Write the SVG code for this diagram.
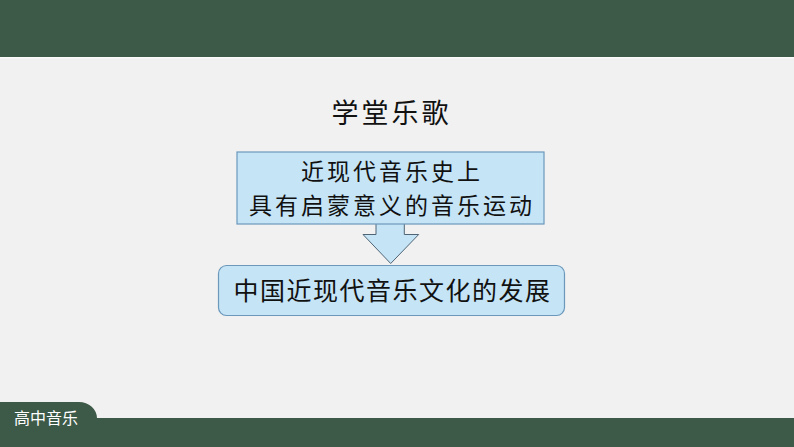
<svg xmlns="http://www.w3.org/2000/svg" width="794" height="447" viewBox="0 0 794 447">
<style>
.cjk{font-family:"Noto Sans CJK SC","Noto Sans CJK TC",sans-serif;fill:#111;}
.box{fill:#c5e4f6;stroke:#6b98bb;stroke-width:1.2;}
</style>
<rect x="0" y="0" width="794" height="447" fill="#f1f1f1"/>
<g id="header">
<rect x="0" y="0" width="794" height="57" fill="#3d5947"/>
<rect x="0" y="57" width="794" height="1.5" fill="#fbfbfb"/>
</g>
<g id="footer">
<path d="M0,402 H79 A18,16 0 0 1 97,418 H794 V447 H0 Z" fill="#3d5947"/>
<text x="14" y="424" font-family="'Noto Sans CJK SC',sans-serif" font-size="16" fill="#ffffff">高中音乐</text>
</g>
<g id="title">
<text class="cjk" x="391.5" y="123" font-size="27" letter-spacing="3" text-anchor="middle">学堂乐歌</text>
</g>
<g id="connectors">
<path id="arrow" d="M376,224 V234.5 H363 L390.7,263.5 L418.7,234.5 H404.3 V224" fill="#c5e4f6" stroke="#4f6576" stroke-width="1"/>
</g>
<g id="node1">
<rect class="box" x="237" y="152" width="307" height="72"/>
<text class="cjk" x="392" y="180" font-size="23" letter-spacing="3" text-anchor="middle">近现代音乐史上</text>
<text class="cjk" x="392" y="213.5" font-size="23" letter-spacing="3" text-anchor="middle">具有启蒙意义的音乐运动</text>
</g>
<g id="node2">
<rect class="box" x="218.5" y="265.5" width="346" height="50" rx="8" ry="8"/>
<text class="cjk" x="392.5" y="300" font-size="25" letter-spacing="1.5" text-anchor="middle">中国近现代音乐文化的发展</text>
</g>
</svg>
